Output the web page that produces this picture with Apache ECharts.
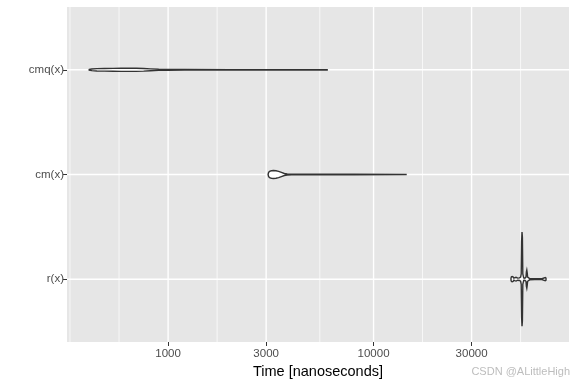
<!DOCTYPE html>
<html>
<head>
<meta charset="utf-8">
<script src="https://cdn.jsdelivr.net/npm/echarts@6/dist/echarts.min.js"></script>
<style>html,body{margin:0;padding:0;background:#fff}#c{width:576px;height:384px}</style>
</head>
<body>
<div id="c"></div>
<script>
// categories (bottom to top)
var categories = ['r(x)', 'cm(x)', 'cmq(x)'];
// x axis (nanoseconds, log scale)
var xMin = 322, xMax = 89400;
var majorBreaks = [1000, 3000, 10000, 30000];
var tickLabels = ['1000', '3000', '10000', '30000'];
var minorBreaks = [333, 577, 1732, 5477, 17320, 51960];

// violin outlines: time values (ns) and half-widths (fraction of category spacing)
var rTime = [46670, 46900, 47300, 47740, 48200, 48700, 49370, 50300, 51300, 52000, 52330, 52560, 52800, 53030, 53270, 53800, 54500, 55210, 55460, 55710, 55970, 56220, 57500, 61000, 66000, 68500, 69090];
var rHalf = [0.01, 0.022, 0.025, 0.022, 0.01, 0.014, 0.018, 0.01, 0.012, 0.02, 0.05, 0.36, 0.45, 0.4, 0.05, 0.012, 0.01, 0.02, 0.07, 0.087, 0.06, 0.02, 0.006, 0.004, 0.004, 0.015, 0.01];
var cmTime = [3066, 3085, 3120, 3180, 3260, 3350, 3450, 3560, 3680, 3800, 4000, 4300, 5000, 8000, 14390];
var cmHalf = [0.0, 0.02, 0.03, 0.036, 0.038, 0.036, 0.03, 0.02, 0.01, 0.005, 0.004, 0.003, 0.002, 0.002, 0.001];
var cmqTime = [413, 425, 450, 490, 540, 590, 640, 700, 760, 820, 900, 1000, 1200, 2000, 5945];
var cmqHalf = [0.003, 0.008, 0.011, 0.013, 0.014, 0.015, 0.015, 0.015, 0.013, 0.009, 0.005, 0.004, 0.003, 0.002, 0.002];

var violins = [
  {g: 1, t: rTime, h: rHalf},
  {g: 2, t: cmTime, h: cmHalf},
  {g: 3, t: cmqTime, h: cmqHalf}
];

var L = Math.log10;
var yMin = 0.4, yMax = 3.6;

var chart = echarts.init(document.getElementById('c'), null, {renderer: 'canvas'});

var gridData = [];
minorBreaks.forEach(function (v) { gridData.push([L(v), 0]); });
majorBreaks.forEach(function (v) { gridData.push([L(v), 1]); });
[1, 2, 3].forEach(function (v) { gridData.push([v, 2]); });

var option = {
  animation: false,
  backgroundColor: '#ffffff',
  textStyle: {fontFamily: 'Liberation Sans, Arial, sans-serif'},
  grid: {left: 67, right: 7, top: 7, bottom: 42, show: true, backgroundColor: '#E6E6E6', borderWidth: 0,
         containLabel: false, outerBoundsMode: 'none'},
  xAxis: {
    type: 'value', min: L(xMin), max: L(xMax),
    axisLine: {show: false},
    splitLine: {show: false},
    axisTick: {show: true, customValues: majorBreaks.map(L), length: 4, lineStyle: {color: '#333333', width: 1}},
    axisLabel: {
      customValues: majorBreaks.map(L), margin: 6, color: '#4D4D4D', fontSize: 11.5,
      fontFamily: 'Liberation Sans, Arial, sans-serif',
      formatter: function (v) {
        for (var i = 0; i < majorBreaks.length; i++) { if (Math.abs(L(majorBreaks[i]) - v) < 1e-6) return tickLabels[i]; }
        return '';
      }
    },
    name: 'Time [nanoseconds]', nameLocation: 'middle', nameGap: 20,
    nameTextStyle: {color: '#000000', fontSize: 14.5, fontFamily: 'Liberation Sans, Arial, sans-serif'}
  },
  yAxis: {
    type: 'value', min: yMin, max: yMax,
    axisLine: {show: false},
    splitLine: {show: false},
    axisTick: {show: true, customValues: [1, 2, 3], length: 4, lineStyle: {color: '#333333', width: 1}},
    axisLabel: {
      customValues: [1, 2, 3], margin: 3, color: '#4D4D4D', fontSize: 11.5,
      fontFamily: 'Liberation Sans, Arial, sans-serif',
      formatter: function (v) { return categories[Math.round(v) - 1] || ''; }
    }
  },
  series: [
    {
      type: 'custom', z: 1, silent: true,
      data: gridData,
      renderItem: function (params, api) {
        var v = api.value(0), kind = api.value(1);
        var p1, p2;
        if (kind === 2) {
          p1 = api.coord([L(xMin), v]); p2 = api.coord([L(xMax), v]);
        } else {
          p1 = api.coord([v, yMin]); p2 = api.coord([v, yMax]);
        }
        return {
          type: 'line',
          shape: {x1: p1[0], y1: p1[1], x2: p2[0], y2: p2[1]},
          style: {stroke: '#ffffff', lineWidth: kind === 0 ? 0.7 : 1.4}
        };
      }
    },
    {
      type: 'custom', z: 2, silent: true,
      data: violins.map(function (d, i) { return [i]; }),
      renderItem: function (params, api) {
        var d = violins[params.dataIndex];
        var top = [], bot = [];
        for (var i = 0; i < d.t.length; i++) {
          top.push(api.coord([L(d.t[i]), d.g + d.h[i]]));
          bot.push(api.coord([L(d.t[i]), d.g - d.h[i]]));
        }
        var pts = top.concat(bot.reverse());
        return {
          type: 'polygon',
          shape: {points: pts},
          style: {fill: '#ffffff', stroke: '#333333', lineWidth: 1.4}
        };
      }
    }
  ],
  graphic: [
    {type: 'text', right: 6, top: 366, style: {text: 'CSDN @ALittleHigh', fill: '#BDBDBD', fontSize: 11, fontFamily: 'Liberation Sans, Arial, sans-serif'}}
  ]
};
chart.setOption(option);
</script>
</body>
</html>
